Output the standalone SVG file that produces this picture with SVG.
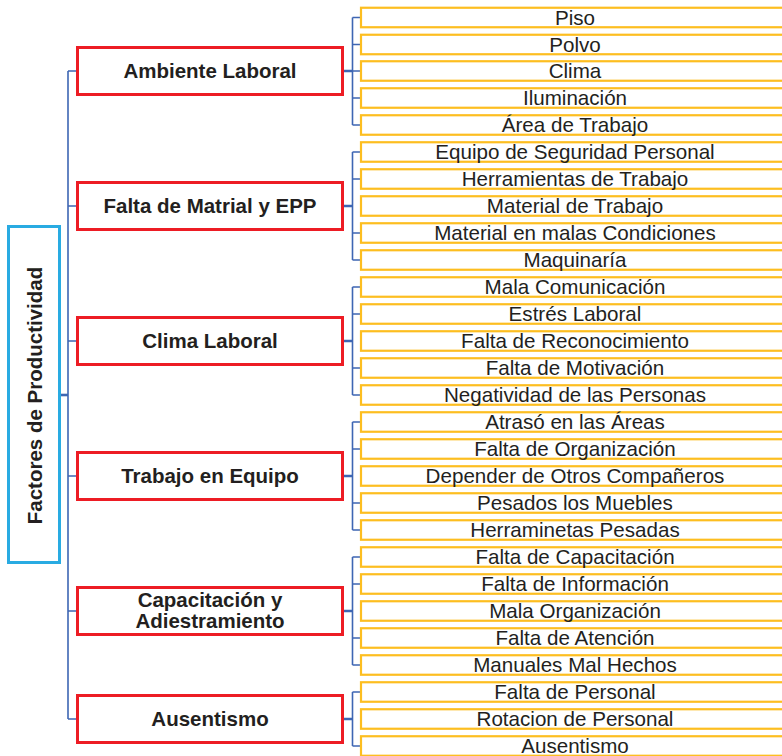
<svg xmlns="http://www.w3.org/2000/svg" width="782" height="756" viewBox="0 0 782 756">
<style>
.cat{fill:#fff;stroke:#ED1C24;stroke-width:3}
.leaf{fill:#fff;stroke:#FDBE20;stroke-width:2.2}
.root{fill:#fff;stroke:#29ABE2;stroke-width:3}
.ct{font-family:"Liberation Sans",Arial,sans-serif;font-weight:bold;font-size:20.5px;fill:#231F20;text-anchor:middle}
.lt{font-family:"Liberation Sans",Arial,sans-serif;font-size:20.6px;fill:#231F20;text-anchor:middle}
.ln{fill:none;stroke:#3E66B3;stroke-width:1.6}
.stub{fill:none;stroke:#3E66B3;stroke-width:2.6}
</style>
<rect width="782" height="756" fill="#fff"/>
<g id="connectors">
<path class="ln" d="M68,71V719M68,71H77M68,206H77M68,341H77M68,476H77M68,611H77M68,719H77"/>
<path class="stub" d="M61,395H68"/>
<path class="stub" d="M344,71H353M344,206H353M344,341H353M344,476H353M344,611H353M344,719H353"/>
<path class="ln" d="M352.5,17.5V125M352.5,17.5H361M352.5,44.5H361M352.5,71H361M352.5,98H361M352.5,125H361"/>
<path class="ln" d="M352.5,152V260M352.5,152H361M352.5,179H361M352.5,233H361M352.5,260H361"/>
<path class="ln" d="M352.5,287V395M352.5,287H361M352.5,314H361M352.5,368H361M352.5,395H361"/>
<path class="ln" d="M352.5,422V530M352.5,422H361M352.5,449H361M352.5,503H361M352.5,530H361"/>
<path class="ln" d="M352.5,557V665M352.5,557H361M352.5,584H361M352.5,638H361M352.5,665H361"/>
<path class="ln" d="M352.5,692V746M352.5,692H361M352.5,746H361"/>
</g>
<g id="root">
<rect class="root" x="8.5" y="226.5" width="51" height="336"/>
<text class="ct" transform="translate(41.5,395.5) rotate(-90)">Factores de Productividad</text>
</g>
<g id="cat1"><rect class="cat" x="77.5" y="47.5" width="265" height="47"/><text class="ct" x="210" y="78.3">Ambiente Laboral</text></g>
<g id="cat2"><rect class="cat" x="77.5" y="182.5" width="265" height="47"/><text class="ct" x="210" y="213.3">Falta de Matrial y EPP</text></g>
<g id="cat3"><rect class="cat" x="77.5" y="317.5" width="265" height="47"/><text class="ct" x="210" y="348.3">Clima Laboral</text></g>
<g id="cat4"><rect class="cat" x="77.5" y="452.5" width="265" height="47"/><text class="ct" x="210" y="483.3">Trabajo en Equipo</text></g>
<g id="cat5"><rect class="cat" x="77.5" y="587.5" width="265" height="47"/><text class="ct" x="210" y="607.3">Capacitación y</text><text class="ct" x="210" y="628.3">Adiestramiento</text></g>
<g id="cat6"><rect class="cat" x="77.5" y="695.5" width="265" height="47"/><text class="ct" x="210" y="726.3">Ausentismo</text></g>
<g id="l1"><rect class="leaf" x="361" y="7.75" width="428" height="19.5"/><text class="lt" x="575" y="24.5">Piso</text></g>
<g id="l2"><rect class="leaf" x="361" y="34.75" width="428" height="19.5"/><text class="lt" x="575" y="51.5">Polvo</text></g>
<g id="l3"><rect class="leaf" x="361" y="61.25" width="428" height="19.5"/><text class="lt" x="575" y="78">Clima</text></g>
<g id="l4"><rect class="leaf" x="361" y="88.25" width="428" height="19.5"/><text class="lt" x="575" y="105">Iluminación</text></g>
<g id="l5"><rect class="leaf" x="361" y="115.25" width="428" height="19.5"/><text class="lt" x="575" y="132">Área de Trabajo</text></g>
<g id="l6"><rect class="leaf" x="361" y="142.25" width="428" height="19.5"/><text class="lt" x="575" y="159">Equipo de Seguridad Personal</text></g>
<g id="l7"><rect class="leaf" x="361" y="169.25" width="428" height="19.5"/><text class="lt" x="575" y="186">Herramientas de Trabajo</text></g>
<g id="l8"><rect class="leaf" x="361" y="196.25" width="428" height="19.5"/><text class="lt" x="575" y="213">Material de Trabajo</text></g>
<g id="l9"><rect class="leaf" x="361" y="223.25" width="428" height="19.5"/><text class="lt" x="575" y="240">Material en malas Condiciones</text></g>
<g id="l10"><rect class="leaf" x="361" y="250.25" width="428" height="19.5"/><text class="lt" x="575" y="267">Maquinaría</text></g>
<g id="l11"><rect class="leaf" x="361" y="277.25" width="428" height="19.5"/><text class="lt" x="575" y="294">Mala Comunicación</text></g>
<g id="l12"><rect class="leaf" x="361" y="304.25" width="428" height="19.5"/><text class="lt" x="575" y="321">Estrés Laboral</text></g>
<g id="l13"><rect class="leaf" x="361" y="331.25" width="428" height="19.5"/><text class="lt" x="575" y="348">Falta de Reconocimiento</text></g>
<g id="l14"><rect class="leaf" x="361" y="358.25" width="428" height="19.5"/><text class="lt" x="575" y="375">Falta de Motivación</text></g>
<g id="l15"><rect class="leaf" x="361" y="385.25" width="428" height="19.5"/><text class="lt" x="575" y="402">Negatividad de las Personas</text></g>
<g id="l16"><rect class="leaf" x="361" y="412.25" width="428" height="19.5"/><text class="lt" x="575" y="429">Atrasó en las Áreas</text></g>
<g id="l17"><rect class="leaf" x="361" y="439.25" width="428" height="19.5"/><text class="lt" x="575" y="456">Falta de Organización</text></g>
<g id="l18"><rect class="leaf" x="361" y="466.25" width="428" height="19.5"/><text class="lt" x="575" y="483">Depender de Otros Compañeros</text></g>
<g id="l19"><rect class="leaf" x="361" y="493.25" width="428" height="19.5"/><text class="lt" x="575" y="510">Pesados los Muebles</text></g>
<g id="l20"><rect class="leaf" x="361" y="520.25" width="428" height="19.5"/><text class="lt" x="575" y="537">Herraminetas Pesadas</text></g>
<g id="l21"><rect class="leaf" x="361" y="547.25" width="428" height="19.5"/><text class="lt" x="575" y="564">Falta de Capacitación</text></g>
<g id="l22"><rect class="leaf" x="361" y="574.25" width="428" height="19.5"/><text class="lt" x="575" y="591">Falta de Información</text></g>
<g id="l23"><rect class="leaf" x="361" y="601.25" width="428" height="19.5"/><text class="lt" x="575" y="618">Mala Organización</text></g>
<g id="l24"><rect class="leaf" x="361" y="628.25" width="428" height="19.5"/><text class="lt" x="575" y="645">Falta de Atención</text></g>
<g id="l25"><rect class="leaf" x="361" y="655.25" width="428" height="19.5"/><text class="lt" x="575" y="672">Manuales Mal Hechos</text></g>
<g id="l26"><rect class="leaf" x="361" y="682.25" width="428" height="19.5"/><text class="lt" x="575" y="699">Falta de Personal</text></g>
<g id="l27"><rect class="leaf" x="361" y="709.25" width="428" height="19.5"/><text class="lt" x="575" y="726">Rotacion de Personal</text></g>
<g id="l28"><rect class="leaf" x="361" y="736.25" width="428" height="19.5"/><text class="lt" x="575" y="753">Ausentismo</text></g>
</svg>
